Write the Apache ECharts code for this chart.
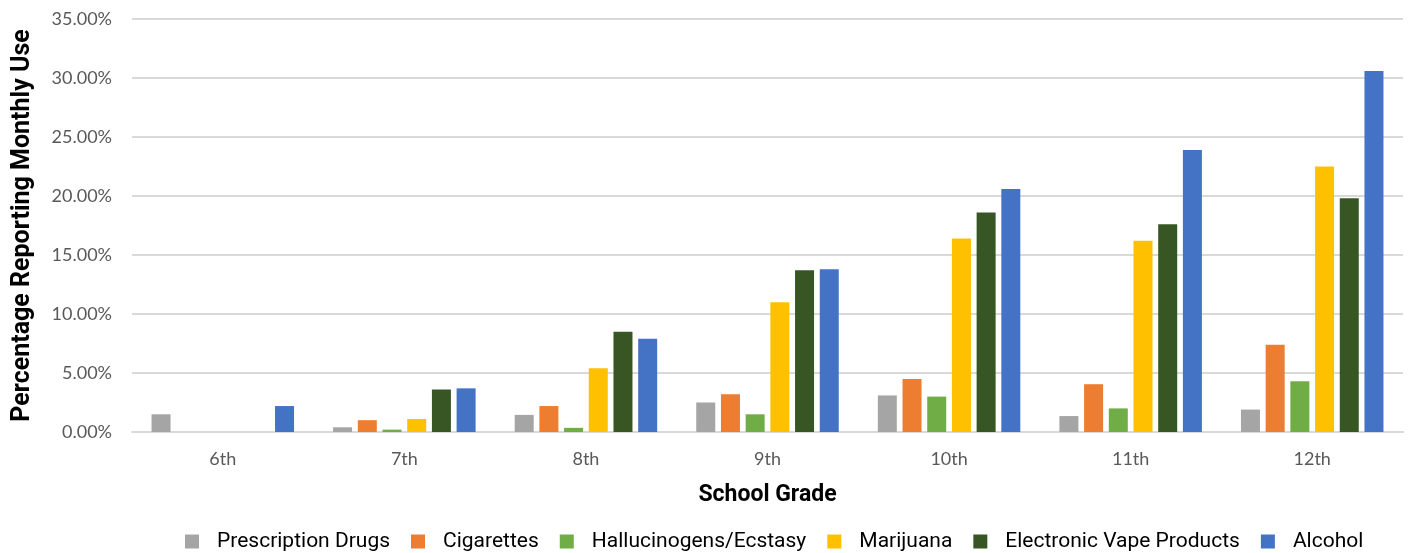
<!DOCTYPE html>
<html>
<head>
<meta charset="utf-8">
<script src="https://cdn.jsdelivr.net/npm/echarts@6/dist/echarts.min.js"></script>
<style>
  html, body { margin: 0; padding: 0; background: #fff; }
  #main { width: 1409px; height: 553px; }
</style>
</head>
<body>
<div id="main"></div>
<script>
const grades = ['6th', '7th', '8th', '9th', '10th', '11th', '12th'];

// percent values
const prescriptionDrugs = [1.5, 0.4, 1.45, 2.5, 3.1, 1.35, 1.9];
const cigarettes = [0, 1.0, 2.2, 3.2, 4.5, 4.05, 7.4];
const hallucinogens = [0, 0.2, 0.35, 1.5, 3.0, 2.0, 4.3];
const marijuana = [0, 1.1, 5.4, 11.0, 16.4, 16.2, 22.5];
const vapeProducts = [0, 3.6, 8.5, 13.7, 18.6, 17.6, 19.8];
const alcohol = [2.2, 3.7, 7.9, 13.8, 20.6, 23.9, 30.6];

const seriesDefs = [
  { name: 'Prescription Drugs', data: prescriptionDrugs, color: '#a5a5a5' },
  { name: 'Cigarettes', data: cigarettes, color: '#ed7d31' },
  { name: 'Hallucinogens/Ecstasy', data: hallucinogens, color: '#70ad47' },
  { name: 'Marijuana', data: marijuana, color: '#ffc000' },
  { name: 'Electronic Vape Products', data: vapeProducts, color: '#375623' },
  { name: 'Alcohol', data: alcohol, color: '#4472c4' }
];

const chart = echarts.init(document.getElementById('main'));

let option = {
  animation: false,
  grid: {
    left: 132,
    right: 6,
    top: 19,
    bottom: 121,
    containLabel: false,
    outerBoundsMode: 'none'
  },
  legend: {
    top: 526,
    left: 180,
    itemWidth: 14,
    itemHeight: 14,
    itemGap: 21,
    icon: 'rect',
    textStyle: {
      fontFamily: 'Roboto',
      fontSize: 21,
      color: '#000',
      padding: [0, 0, 0, 13]
    },
    data: seriesDefs.map(s => s.name)
  },
  xAxis: {
    type: 'category',
    data: grades,
    name: 'School Grade',
    nameLocation: 'middle',
    nameGap: 52,
    nameTextStyle: {
      fontFamily: 'Roboto',
      fontWeight: 'bold',
      fontSize: 23,
      color: '#000'
    },
    axisTick: { show: false },
    axisLine: { lineStyle: { color: '#d9d9d9', width: 2 } },
    axisLabel: {
      fontFamily: 'Lato',
      fontSize: 18,
      color: '#595959',
      margin: 18
    }
  },
  yAxis: {
    type: 'value',
    min: 0,
    max: 35,
    interval: 5,
    name: 'Percentage Reporting Monthly Use',
    nameLocation: 'middle',
    nameGap: 97,
    nameTextStyle: {
      fontFamily: 'Roboto',
      fontWeight: 'bold',
      fontSize: 25,
      color: '#000'
    },
    axisLine: { show: false },
    axisTick: { show: false },
    axisLabel: {
      fontFamily: 'Lato',
      fontSize: 18,
      color: '#595959',
      margin: 20,
      formatter: v => v.toFixed(2) + '%'
    },
    splitLine: { lineStyle: { color: '#d9d9d9', width: 2 } }
  },
  series: seriesDefs.map(s => ({
    name: s.name,
    type: 'bar',
    data: s.data,
    barWidth: 19,
    barGap: '30%',
    itemStyle: { color: s.color }
  }))
};

chart.setOption(option);
</script>
</body>
</html>
